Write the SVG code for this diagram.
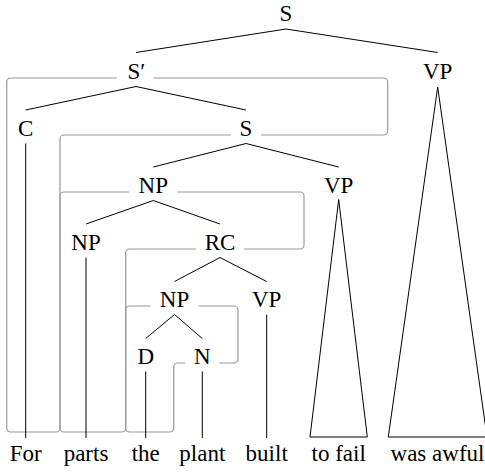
<svg xmlns="http://www.w3.org/2000/svg" width="485" height="472" viewBox="0 0 485 472">
<style>
.e{stroke:#000;stroke-width:1;fill:none}
.b{stroke:#9a9a9a;stroke-width:1.2;fill:none}
</style>
<rect width="485" height="472" fill="#fff"/>
<g id="outlines">
<path class="b" d="M153.5,78 H383.7 A4,4 0 0 1 387.7,82 V131 A4,4 0 0 1 383.7,135 H261"/>
<path class="b" d="M231,135 H64 A4,4 0 0 0 60,139 V428 A4,4 0 0 1 56,432 H10.7 A4,4 0 0 1 6.7,428 V82 A4,4 0 0 1 10.7,78 H116.7"/>
<path class="b" d="M177.3,192 H300 A4,4 0 0 1 304,196 V245 A4,4 0 0 1 300,249 H244"/>
<path class="b" d="M196,249 H129.7 A4,4 0 0 0 125.7,253 V428 A4,4 0 0 1 121.7,432 H64 A4,4 0 0 1 60,428 V196 A4,4 0 0 1 64,192 H129.3"/>
<path class="b" d="M198.5,306 H234 A4,4 0 0 1 238,310 V359 A4,4 0 0 1 234,363 H219.3"/>
<path class="b" d="M185.3,363 H177.7 A4,4 0 0 0 173.7,367 V428 A4,4 0 0 1 169.7,432 H129.7 A4,4 0 0 1 125.7,428 V310 A4,4 0 0 1 129.7,306 H150.5"/>
</g>
<g id="connectors">
<path class="e" d="M136,52.5 L286,29 L437.7,52.5"/>
<path class="e" d="M25.7,110 L136,86.5 L246,110"/>
<path class="e" d="M153.3,167 L246,143.5 L338.7,167"/>
<path class="e" d="M86,224 L153.3,200.5 L220,224"/>
<path class="e" d="M174.5,281.5 L220,257.5 L266.7,281.5"/>
<path class="e" d="M145.7,338.5 L174.5,314.5 L202.3,338.5"/>
<path class="e" d="M25.7,143.5 V438"/>
<path class="e" d="M86,257.5 V438"/>
<path class="e" d="M145.7,371.5 V438"/>
<path class="e" d="M202.3,371.5 V438"/>
<path class="e" d="M266.7,314.5 V438"/>
<path class="e" d="M338.7,199.5 L310,437 H367.3 Z"/>
<path class="e" d="M437.7,87 L388.3,437 H487 Z"/>
</g>
<g font-family="Liberation Serif, Times New Roman, serif" font-size="23" fill="#000" text-anchor="middle">
<g id="n-S"><text x="286" y="21">S</text></g>
<g id="n-Sbar"><text x="136.5" y="78.5">S′</text></g>
<g id="n-VP1"><text x="437.7" y="78.5">VP</text></g>
<g id="n-C"><text x="25.7" y="135.5">C</text></g>
<g id="n-S2"><text x="246" y="135.5">S</text></g>
<g id="n-NP1"><text x="153.3" y="192.5">NP</text></g>
<g id="n-VP2"><text x="338.7" y="192.5">VP</text></g>
<g id="n-NP2"><text x="86" y="249.5">NP</text></g>
<g id="n-RC"><text x="220" y="249.5">RC</text></g>
<g id="n-NP3"><text x="174.5" y="306.5">NP</text></g>
<g id="n-VP3"><text x="266.7" y="306.5">VP</text></g>
<g id="n-D"><text x="145.7" y="363.5">D</text></g>
<g id="n-N"><text x="202.3" y="363.5">N</text></g>
<g id="words">
<text x="25.7" y="461">For</text>
<text x="86" y="461">parts</text>
<text x="145.7" y="461">the</text>
<text x="202.3" y="461">plant</text>
<text x="266.7" y="461">built</text>
<text x="338.7" y="461">to fail</text>
<text x="437.5" y="461">was awful</text>
</g>
</g>
</svg>
